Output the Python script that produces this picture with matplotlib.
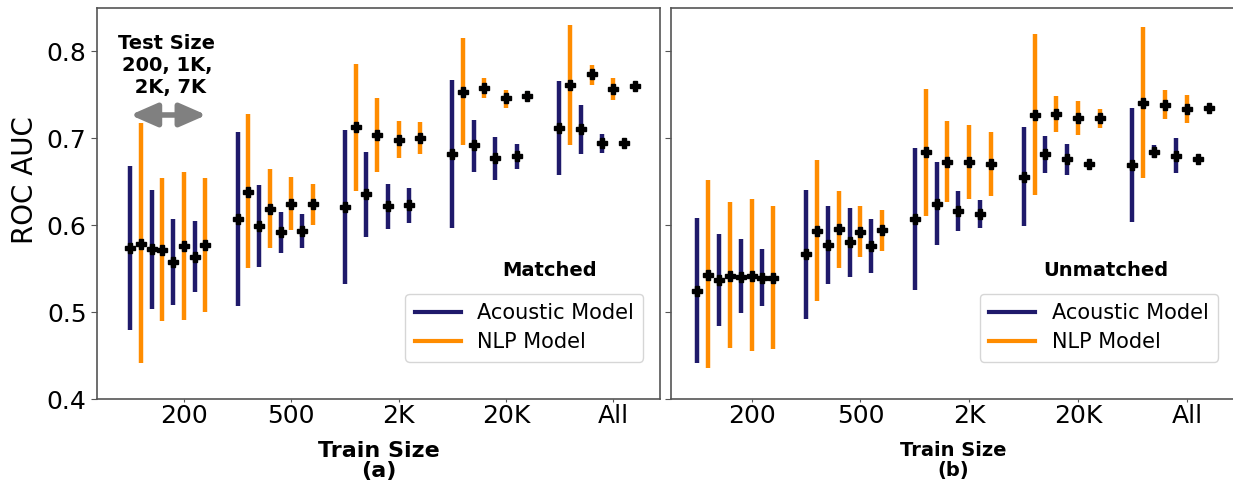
import numpy as np
import matplotlib
matplotlib.use("Agg")
import matplotlib.pyplot as plt
from matplotlib.lines import Line2D

train_sizes = ["200", "500", "2K", "20K", "All"]
test_sizes = ["200", "1K", "2K", "7K"]

# ---- Matched (a) ----  rows: train size, cols: test size
m_ac_mean = [[0.574, 0.573, 0.558, 0.564],
             [0.607, 0.599, 0.592, 0.594],
             [0.621, 0.636, 0.622, 0.623],
             [0.682, 0.692, 0.677, 0.680],
             [0.712, 0.711, 0.695, 0.695]]
m_ac_low = [[0.480, 0.504, 0.509, 0.523],
            [0.507, 0.552, 0.568, 0.574],
            [0.533, 0.587, 0.596, 0.603],
            [0.597, 0.662, 0.652, 0.665],
            [0.658, 0.682, 0.683, 0.693]]
m_ac_high = [[0.668, 0.641, 0.607, 0.605],
             [0.708, 0.647, 0.616, 0.613],
             [0.710, 0.684, 0.648, 0.643],
             [0.767, 0.721, 0.702, 0.694],
             [0.766, 0.739, 0.705, 0.697]]
m_nlp_mean = [[0.579, 0.572, 0.576, 0.577],
              [0.638, 0.619, 0.625, 0.625],
              [0.713, 0.704, 0.698, 0.700],
              [0.753, 0.758, 0.746, 0.749],
              [0.762, 0.774, 0.757, 0.760]]
m_nlp_low = [[0.442, 0.490, 0.491, 0.501],
             [0.551, 0.574, 0.595, 0.601],
             [0.640, 0.661, 0.677, 0.682],
             [0.692, 0.746, 0.735, 0.747],
             [0.692, 0.761, 0.744, 0.758]]
m_nlp_high = [[0.718, 0.654, 0.661, 0.654],
              [0.728, 0.665, 0.656, 0.648],
              [0.786, 0.746, 0.720, 0.719],
              [0.815, 0.769, 0.756, 0.751],
              [0.831, 0.785, 0.769, 0.762]]

# ---- Unmatched (b) ----
u_ac_mean = [[0.525, 0.537, 0.541, 0.540],
             [0.567, 0.578, 0.581, 0.576],
             [0.607, 0.625, 0.617, 0.613],
             [0.656, 0.682, 0.676, 0.671],
             [0.669, 0.685, 0.680, 0.676]]
u_ac_low = [[0.442, 0.485, 0.499, 0.507],
            [0.492, 0.533, 0.541, 0.545],
            [0.526, 0.577, 0.594, 0.597],
            [0.599, 0.660, 0.658, 0.669],
            [0.604, 0.677, 0.660, 0.674]]
u_ac_high = [[0.609, 0.590, 0.584, 0.573],
             [0.641, 0.622, 0.620, 0.608],
             [0.689, 0.673, 0.640, 0.629],
             [0.713, 0.703, 0.694, 0.673],
             [0.735, 0.692, 0.700, 0.678]]
u_nlp_mean = [[0.543, 0.542, 0.542, 0.540],
              [0.594, 0.596, 0.592, 0.595],
              [0.684, 0.673, 0.673, 0.671],
              [0.727, 0.728, 0.723, 0.723],
              [0.741, 0.739, 0.734, 0.735]]
u_nlp_low = [[0.436, 0.459, 0.456, 0.458],
             [0.513, 0.551, 0.564, 0.571],
             [0.611, 0.627, 0.631, 0.634],
             [0.635, 0.708, 0.704, 0.712],
             [0.655, 0.722, 0.718, 0.733]]
u_nlp_high = [[0.652, 0.627, 0.630, 0.622],
              [0.675, 0.640, 0.622, 0.618],
              [0.757, 0.720, 0.715, 0.707],
              [0.820, 0.749, 0.743, 0.734],
              [0.828, 0.756, 0.750, 0.737]]

AC_COLOR = "#1f1a6b"
NLP_COLOR = "#ff8c00"
SPINE = "#555555"

fig = plt.figure(figsize=(12.33, 4.83), dpi=100)
ax1 = fig.add_axes([0.0787, 0.1729, 0.4564, 0.8106])
ax2 = fig.add_axes([0.5445, 0.1729, 0.4565, 0.8106])


def draw(ax, ac_mean, ac_low, ac_high, nlp_mean, nlp_low, nlp_high):
    n_train = len(train_sizes)
    n_test = len(test_sizes)
    base = np.repeat(np.arange(n_train), n_test)
    off = np.tile(np.arange(n_test), n_train) * 0.2 - 0.5
    for mean, low, high, color, shift in [
        (ac_mean, ac_low, ac_high, AC_COLOR, 0.0),
        (nlp_mean, nlp_low, nlp_high, NLP_COLOR, 0.1),
    ]:
        mean = np.asarray(mean).ravel()
        low = np.asarray(low).ravel()
        high = np.asarray(high).ravel()
        x = base + off + shift
        ax.errorbar(x, mean, yerr=[mean - low, high - mean], fmt="P",
                    color="black", ms=6.5, ecolor=color, elinewidth=3.2,
                    capsize=0, zorder=2)
    ax.set_xticks(np.arange(n_train))
    ax.set_xticklabels(train_sizes)
    ax.set_ylim(0.4, 0.85)
    ax.set_yticks([0.4, 0.5, 0.6, 0.7, 0.8])
    for s in ax.spines.values():
        s.set_color(SPINE)
        s.set_linewidth(1.2)
    ax.tick_params(axis="both", colors="black", labelsize=18)
    ax.tick_params(axis="x", length=2, pad=1, color=SPINE)
    ax.tick_params(axis="y", length=4, color=SPINE)


draw(ax1, m_ac_mean, m_ac_low, m_ac_high, m_nlp_mean, m_nlp_low, m_nlp_high)
draw(ax2, u_ac_mean, u_ac_low, u_ac_high, u_nlp_mean, u_nlp_low, u_nlp_high)

ax1.set_xlim(-0.81, 4.435)
ax2.set_xlim(-0.737, 4.435)
ax2.set_yticklabels([])

ax1.set_ylabel("ROC AUC", fontsize=20)
ax1.yaxis.set_label_coords(-0.103, 0.56)

ax1.set_xlabel("Train Size\n(a)", fontsize=16, fontweight="bold", linespacing=1.05)
ax2.set_xlabel("Train Size\n(b)", fontsize=14, fontweight="bold", linespacing=1.1)
ax1.xaxis.set_label_coords(0.5, -0.105)
ax2.xaxis.set_label_coords(0.5, -0.105)
ax1.xaxis.label.set_va("top")
ax2.xaxis.label.set_va("top")

handles = [Line2D([], [], color=AC_COLOR, lw=3),
           Line2D([], [], color=NLP_COLOR, lw=3)]
labels = ["Acoustic Model", "NLP Model"]
for ax, title, tx in [(ax1, "Matched", 0.805), (ax2, "Unmatched", 0.772)]:
    ax.legend(handles, labels, loc="lower right", bbox_to_anchor=(0.971, 0.097),
              borderaxespad=0, fontsize=15, handlelength=2.2,
              labelspacing=0.42, borderpad=0.45)
    ax.text(tx, 0.329, title, transform=ax.transAxes, ha="center", va="center",
            fontsize=14, fontweight="bold")

ax1.annotate("", xy=(0.21, 0.727), xytext=(-0.5, 0.727),
             arrowprops=dict(arrowstyle="<|-|>,head_length=0.8,head_width=0.35",
                             color="grey", lw=4, mutation_scale=20,
                             shrinkA=0, shrinkB=0))
ax1.text(-0.16, 0.82, "Test Size\n200, 1K,\n 2K, 7K", ha="center", va="top",
         fontsize=14, fontweight="bold", linespacing=1.2)

fig.savefig("out.png", dpi=100)
